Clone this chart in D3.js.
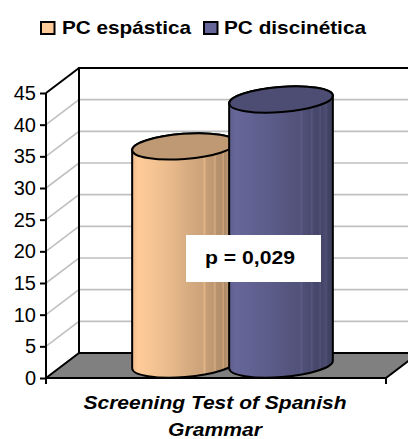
<!DOCTYPE html>
<html><head><meta charset="utf-8">
<script src="https://cdn.jsdelivr.net/npm/d3@7"></script>
<style>html,body{margin:0;padding:0;background:#fff}svg{display:block}text{font-family:"Liberation Sans",Arial,sans-serif;fill:#000}</style>
</head><body><svg id="c" width="408" height="439"></svg>
<script>
const seriesNames = ["PC espástica", "PC discinética"];
const seriesValues = [34.6, 42];
const bodyColors = ["#ffcc99", "#666699"];
const capColors = ["#bf9973", "#4d4d73"];
const tickValues = [0,5,10,15,20,25,30,35,40,45];
const category = ["Screening Test of Spanish", "Grammar"];
const note = "p = 0,029";

const svg = d3.select("#c");
const y = d3.scaleLinear().domain([0,45]).range([378,93]);
const x0 = 46, x1 = 386, dx = 33, dy = 25;
const xPoint = d3.scalePoint().domain(seriesNames).range([184,281]);

// walls & floor
svg.append("path").attr("d",`M${x0},${y(0)}L${x0+dx},${y(0)-dy}L${x1+dx},${y(0)-dy}L${x1},${y(0)}Z`).attr("fill","#808080");
tickValues.slice(1,-1).forEach(t=>{
  svg.append("path").attr("d",`M${x0},${y(t)}L${x0+dx},${y(t)-dy}L${x1+dx},${y(t)-dy}`).attr("fill","none").attr("stroke","#c0c0c0").attr("stroke-width",1.6);
});
const blk = d=>svg.append("path").attr("d",d).attr("fill","none").attr("stroke","#000").attr("stroke-width",2);
blk(`M${x0+dx},${y(0)-dy}V${y(45)-dy}H${x1+dx}`);
blk(`M${x0},${y(45)}L${x0+dx},${y(45)-dy}`);
blk(`M${x0},${y(0)}L${x0+dx},${y(0)-dy}H${x1+dx}`);
blk(`M${x1},${y(0)}L${x1+dx},${y(0)-dy}`);
blk(`M${x0},${y(0)}H${x1}`);
blk(`M${x0},${y(0)}V${y(0)+6}M${x1},${y(0)}V${y(0)+6}`);

// axis
const ax = svg.append("g").attr("transform",`translate(${x0},0)`).call(d3.axisLeft(y).tickValues(tickValues).tickSize(6).tickPadding(4));
ax.selectAll("path,line").attr("stroke","#000").attr("stroke-width",2);
ax.select(".domain").attr("d",`M0,${y(45)}V${y(0)}`);
ax.selectAll("text").attr("font-size",20).attr("font-family","Liberation Sans, Arial, sans-serif").attr("fill","#000");

// gradients
const defs = svg.append("defs");
const stripes = [[0,.92],[.06,1],[.12,.98],[.2,.96],[.3,.93],[.4,.9],[.5,.86],[.6,.82],[.68,.8],[.7,.9],[.71,.78],[.78,.74],[.8,.84],[.81,.72],[.86,.7],[.88,.8],[.89,.68],[.94,.76],[.95,.66],[1,.62]];
seriesNames.forEach((n,i)=>{
  const g = defs.append("linearGradient").attr("id","g"+i);
  stripes.forEach(s=>{
    const c = d3.rgb(bodyColors[i]);
    const k = s[1];
    g.append("stop").attr("offset",s[0]).attr("stop-color",d3.rgb(c.r*k,c.g*k,c.b*k));
  });
});

// cylinders
const rad = a=>a*Math.PI/180;
seriesNames.forEach((n,i)=>{
  const rx = 52, ry = 12.6, tilt = -4.4;
  const cx = xPoint(n);
  const top = y(seriesValues[i])-12.5, bot = y(0)-13.5;
  const ox = rx*Math.cos(rad(tilt)), oy = rx*Math.sin(rad(tilt));
  const d = `M${cx-ox},${top-oy}L${cx-ox},${bot-oy}A${rx},${ry} ${tilt} 0 0 ${cx+ox},${bot+oy}L${cx+ox},${top+oy}A${rx},${ry} ${tilt} 0 0 ${cx-ox},${top-oy}Z`;
  svg.append("path").attr("d",d).attr("fill",`url(#g${i})`).attr("stroke","#000").attr("stroke-width",2);
  svg.append("ellipse").attr("cx",0).attr("cy",0).attr("rx",rx).attr("ry",ry)
    .attr("transform",`translate(${cx},${top}) rotate(${tilt})`)
    .attr("fill",capColors[i]).attr("stroke","#000").attr("stroke-width",2);
});

// note
svg.append("rect").attr("x",186).attr("y",235).attr("width",135).attr("height",47).attr("fill","#fff");
svg.append("text").attr("x",250).attr("y",264).attr("text-anchor","middle").attr("font-weight","bold").attr("font-size",18.5)
  .attr("textLength",90).attr("lengthAdjust","spacingAndGlyphs").text(note);

// category label
const catWidths = [263, 94];
category.forEach((t,i)=>svg.append("text").attr("x",215).attr("y",409+i*27).attr("text-anchor","middle")
  .attr("font-weight","bold").attr("font-style","italic").attr("font-size",18.5)
  .attr("textLength",catWidths[i]).attr("lengthAdjust","spacingAndGlyphs").text(t));

// legend
const lx = [41,204], tx = [62,224], lw = [129,142];
seriesNames.forEach((n,i)=>{
  svg.append("rect").attr("x",lx[i]).attr("y",22).attr("width",13.5).attr("height",12).attr("fill",bodyColors[i]).attr("stroke","#000").attr("stroke-width",2);
  svg.append("text").attr("x",tx[i]).attr("y",34).attr("font-weight","bold").attr("font-size",18.5)
    .attr("textLength",lw[i]).attr("lengthAdjust","spacingAndGlyphs").text(n);
});
</script></body></html>
